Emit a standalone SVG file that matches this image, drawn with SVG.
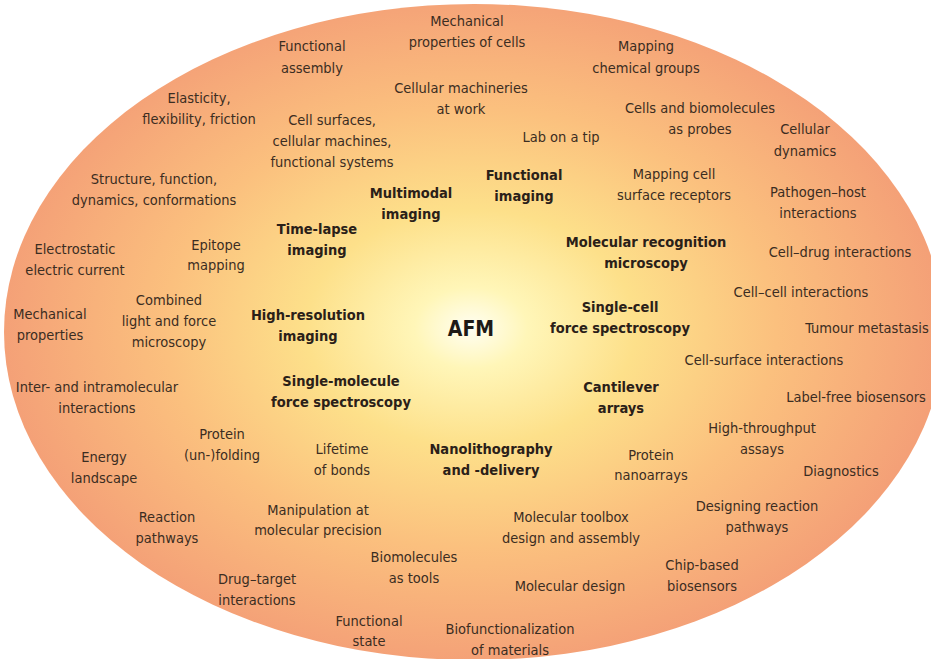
<svg xmlns="http://www.w3.org/2000/svg" width="931" height="659" viewBox="0 0 931 659">
<defs>
<radialGradient id="bg" cx="471" cy="328" r="470" gradientUnits="userSpaceOnUse" gradientTransform="translate(471 328) scale(1 0.72) translate(-471 -328)">
<stop offset="0" stop-color="#fffef2"/>
<stop offset="0.12" stop-color="#fff6b8"/>
<stop offset="0.35" stop-color="#fde08a"/>
<stop offset="0.65" stop-color="#fbc07e"/>
<stop offset="1" stop-color="#f4a077"/>
</radialGradient>
</defs>
<style>
text{font-family:"Liberation Sans Narrow","DejaVu Sans Condensed","Liberation Sans",sans-serif;font-stretch:condensed;font-size:14.5px;fill:#3b2d22;text-anchor:middle}
.b{font-weight:bold;fill:#2a2018}
.afm{font-size:21px;font-weight:bold;fill:#1e1a16}
</style>
<rect width="931" height="659" fill="#ffffff"/>
<ellipse id="bubble" cx="474" cy="332" rx="470" ry="328" fill="url(#bg)"/>
<g id="labels">
<g id="n1"><text x="467" y="26">Mechanical</text><text x="467" y="47">properties of cells</text></g>
<g id="n2"><text x="312" y="51">Functional</text><text x="312" y="73">assembly</text></g>
<g id="n3"><text x="646" y="51">Mapping</text><text x="646" y="73">chemical groups</text></g>
<g id="n4"><text x="461" y="93">Cellular machineries</text><text x="461" y="114">at work</text></g>
<g id="n5"><text x="199" y="103">Elasticity,</text><text x="199" y="124">flexibility, friction</text></g>
<g id="n6"><text x="700" y="113">Cells and biomolecules</text><text x="700" y="134">as probes</text></g>
<g id="n7"><text x="332" y="125">Cell surfaces,</text><text x="332" y="146">cellular machines,</text><text x="332" y="167">functional systems</text></g>
<g id="n8"><text x="561" y="142">Lab on a tip</text></g>
<g id="n9"><text x="805" y="134">Cellular</text><text x="805" y="156">dynamics</text></g>
<g id="n10"><text x="154" y="184">Structure, function,</text><text x="154" y="205">dynamics, conformations</text></g>
<g id="n11"><text class="b" x="411" y="198">Multimodal</text><text class="b" x="411" y="219">imaging</text></g>
<g id="n12"><text class="b" x="524" y="180">Functional</text><text class="b" x="524" y="201">imaging</text></g>
<g id="n13"><text x="674" y="179">Mapping cell</text><text x="674" y="200">surface receptors</text></g>
<g id="n14"><text x="818" y="197">Pathogen–host</text><text x="818" y="218">interactions</text></g>
<g id="n15"><text class="b" x="317" y="234">Time-lapse</text><text class="b" x="317" y="255">imaging</text></g>
<g id="n16"><text x="216" y="250">Epitope</text><text x="216" y="270">mapping</text></g>
<g id="n17"><text x="75" y="254">Electrostatic</text><text x="75" y="275">electric current</text></g>
<g id="n18"><text class="b" x="646" y="247">Molecular recognition</text><text class="b" x="646" y="268">microscopy</text></g>
<g id="n19"><text x="840" y="257">Cell–drug interactions</text></g>
<g id="n20"><text x="50" y="319">Mechanical</text><text x="50" y="340">properties</text></g>
<g id="n21"><text x="169" y="305">Combined</text><text x="169" y="326">light and force</text><text x="169" y="347">microscopy</text></g>
<g id="n22"><text class="b" x="308" y="320">High-resolution</text><text class="b" x="308" y="341">imaging</text></g>
<g id="afm"><text class="afm" x="471" y="336">AFM</text></g>
<g id="n24"><text class="b" x="620" y="312">Single-cell</text><text class="b" x="620" y="333">force spectroscopy</text></g>
<g id="n25"><text x="801" y="297">Cell–cell interactions</text></g>
<g id="n26"><text x="867" y="333">Tumour metastasis</text></g>
<g id="n27"><text x="764" y="365">Cell-surface interactions</text></g>
<g id="n28"><text x="97" y="392">Inter- and intramolecular</text><text x="97" y="413">interactions</text></g>
<g id="n29"><text class="b" x="341" y="386">Single-molecule</text><text class="b" x="341" y="407">force spectroscopy</text></g>
<g id="n30"><text class="b" x="621" y="392">Cantilever</text><text class="b" x="621" y="413">arrays</text></g>
<g id="n31"><text x="856" y="402">Label-free  biosensors</text></g>
<g id="n32"><text x="222" y="439">Protein</text><text x="222" y="460">(un-)folding</text></g>
<g id="n33"><text x="342" y="454">Lifetime</text><text x="342" y="475">of bonds</text></g>
<g id="n34"><text class="b" x="491" y="454">Nanolithography</text><text class="b" x="491" y="475">and -delivery</text></g>
<g id="n35"><text x="651" y="460">Protein</text><text x="651" y="480">nanoarrays</text></g>
<g id="n36"><text x="762" y="433">High-throughput</text><text x="762" y="454">assays</text></g>
<g id="n37"><text x="104" y="462">Energy</text><text x="104" y="483">landscape</text></g>
<g id="n38"><text x="841" y="476">Diagnostics</text></g>
<g id="n39"><text x="318" y="515">Manipulation at</text><text x="318" y="535">molecular precision</text></g>
<g id="n40"><text x="167" y="522">Reaction</text><text x="167" y="543">pathways</text></g>
<g id="n41"><text x="571" y="522">Molecular toolbox</text><text x="571" y="543">design and assembly</text></g>
<g id="n42"><text x="757" y="511">Designing reaction</text><text x="757" y="532">pathways</text></g>
<g id="n43"><text x="414" y="562">Biomolecules</text><text x="414" y="583">as tools</text></g>
<g id="n44"><text x="257" y="584">Drug–target</text><text x="257" y="605">interactions</text></g>
<g id="n45"><text x="570" y="591">Molecular design</text></g>
<g id="n46"><text x="702" y="570">Chip-based</text><text x="702" y="591">biosensors</text></g>
<g id="n47"><text x="369" y="626">Functional</text><text x="369" y="646">state</text></g>
<g id="n48"><text x="510" y="634">Biofunctionalization</text><text x="510" y="655">of materials</text></g>
</g>
<g id="connectors"/>
</svg>
